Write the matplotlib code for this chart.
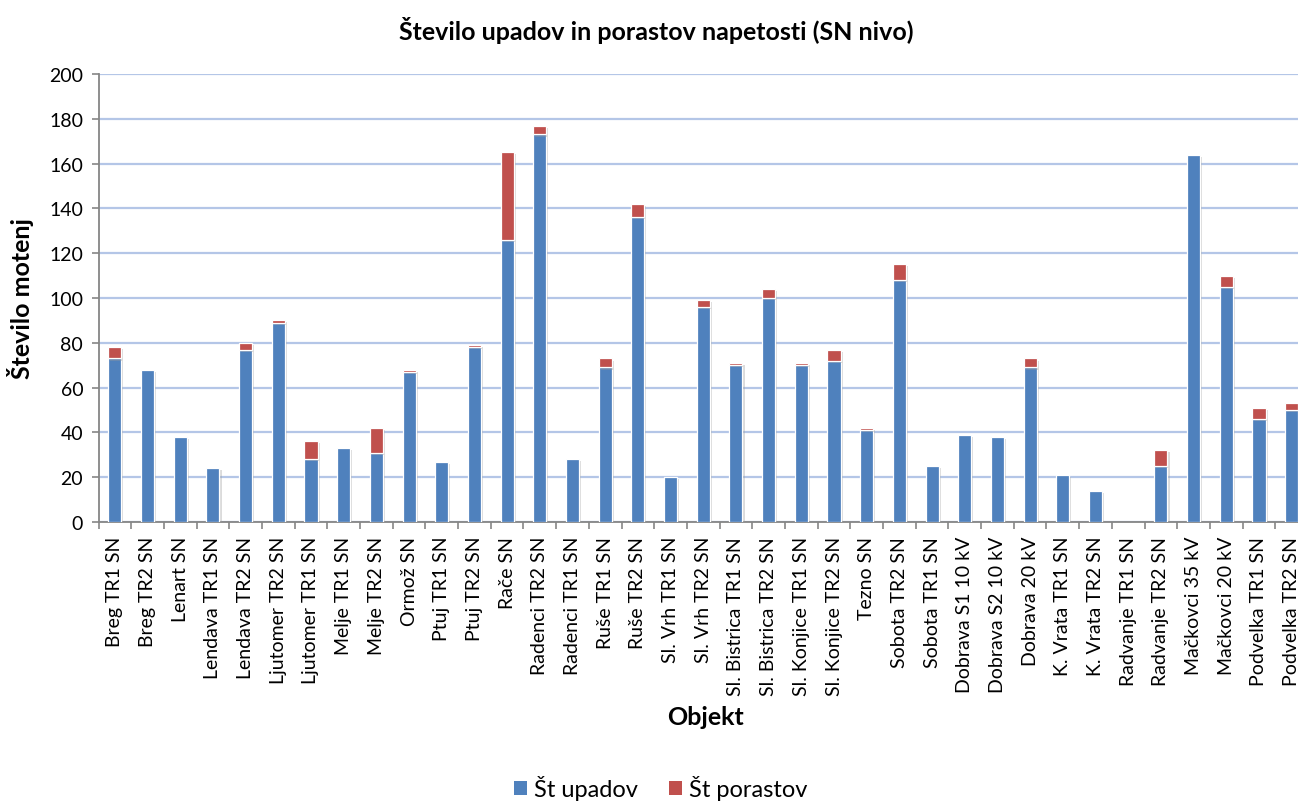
import matplotlib
matplotlib.use("Agg")
import matplotlib.pyplot as plt
import matplotlib.patheffects as pe
from matplotlib.patches import Patch
import numpy as np

plt.rcParams['font.family'] = ['Lato', 'DejaVu Sans']

categories = ["Breg TR1 SN", "Breg TR2 SN", "Lenart SN", "Lendava TR1 SN", "Lendava TR2 SN",
              "Ljutomer TR2 SN", "Ljutomer TR1 SN", "Melje TR1 SN", "Melje TR2 SN", "Ormož SN",
              "Ptuj TR1 SN", "Ptuj TR2 SN", "Rače SN", "Radenci TR2 SN", "Radenci TR1 SN",
              "Ruše TR1 SN", "Ruše TR2 SN", "Sl. Vrh TR1 SN", "Sl. Vrh TR2 SN",
              "Sl. Bistrica TR1 SN", "Sl. Bistrica TR2 SN", "Sl. Konjice TR1 SN",
              "Sl. Konjice TR2 SN", "Tezno SN", "Sobota TR2 SN", "Sobota TR1 SN",
              "Dobrava S1 10 kV", "Dobrava S2 10 kV", "Dobrava 20 kV", "K. Vrata TR1 SN",
              "K. Vrata TR2 SN", "Radvanje TR1 SN", "Radvanje TR2 SN", "Mačkovci 35 kV",
              "Mačkovci 20 kV", "Podvelka TR1 SN", "Podvelka TR2 SN"]
upadi = [73, 68, 38, 24, 77, 89, 28, 33, 31, 67, 27, 78, 126, 173, 28, 69, 136, 20, 96,
         70, 100, 70, 72, 41, 108, 25, 39, 38, 69, 21, 14, 0, 25, 164, 105, 46, 50]
porasti = [5, 0, 0, 0, 3, 1, 8, 0, 11, 1, 0, 1, 39, 4, 0, 4, 6, 0, 3,
           1, 4, 1, 5, 1, 7, 0, 0, 0, 4, 0, 0, 0, 7, 0, 5, 5, 3]
y_ticks = [0, 20, 40, 60, 80, 100, 120, 140, 160, 180, 200]

W, H = 1298, 803
fig = plt.figure(figsize=(W / 100, H / 100), dpi=100)
left, right, top, bottom = 98.5, 1308, 75, 523
ax = fig.add_axes([left / W, 1 - bottom / H, (right - left) / W, (bottom - top) / H])

blue = '#4F81BD'
red = '#C0504D'
x = np.arange(len(categories))
shadow = [pe.SimplePatchShadow(offset=(1.5, -1.5), shadow_rgbFace='#9a9a9a', alpha=0.35), pe.Normal()]
b1 = ax.bar(x, upadi, width=0.4, color=blue, edgecolor='white', linewidth=0.9, zorder=3)
b2 = ax.bar(x, porasti, width=0.4, bottom=upadi, color=red, edgecolor='white', linewidth=0.9, zorder=3)
for b in list(b1) + list(b2):
    if b.get_height() > 0:
        b.set_path_effects(shadow)
    else:
        b.set_visible(False)

ax.set_xlim(-0.5, len(categories) - 0.5)
ax.set_ylim(0, 200)
ax.set_yticks(y_ticks)
ax.yaxis.grid(True, color='#b4c6e7', linewidth=1.6, zorder=0)
ax.set_axisbelow(True)
for s in ['top', 'right']:
    ax.spines[s].set_visible(False)
for s in ['left', 'bottom']:
    ax.spines[s].set_color('#868686')
    ax.spines[s].set_linewidth(1.3)

ax.set_xticks(np.arange(len(categories) + 1) - 0.5)
ax.set_xticklabels([])
ax.set_xticks(x, minor=True)
ax.set_xticklabels(categories, minor=True, rotation=90, fontsize=14, va='top', ha='center')
ax.tick_params(axis='x', which='major', length=5, color='#868686', width=1.2)
ax.tick_params(axis='x', which='minor', length=0, pad=10)
ax.tick_params(axis='y', length=5, color='#868686', width=1.2, labelsize=14, pad=6)

fig.text(656 / W, 1 - 30 / H, 'Število upadov in porastov napetosti (SN nivo)',
         ha='center', va='center', fontsize=18, fontweight='bold')
fig.text(705 / W, 1 - 718 / H, 'Objekt', ha='center', va='center', fontsize=18, fontweight='bold')
fig.text(21 / W, 1 - 299 / H, 'Število motenj', ha='center', va='center', rotation=90,
         fontsize=18, fontweight='bold')

handles = [Patch(facecolor=blue, edgecolor='none'), Patch(facecolor=red, edgecolor='none')]
fig.legend(handles, ['Št upadov', 'Št porastov'], loc='center', bbox_to_anchor=(661 / W, 1 - 789 / H),
           ncol=2, frameon=False, fontsize=17, handlelength=0.55, handleheight=0.55,
           handletextpad=0.3, columnspacing=1.3)

fig.savefig('out.png', dpi=100)
